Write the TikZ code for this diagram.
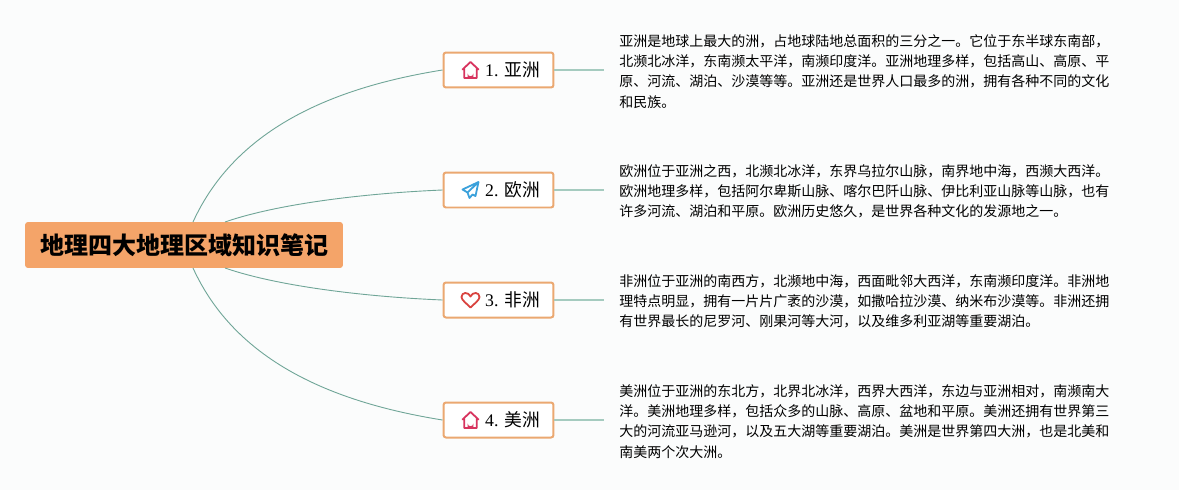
\documentclass[tikz,border=0pt]{standalone}
\usepackage{fontspec}
\usepackage{xcolor}
\setmainfont{Liberation Serif}
\newfontfamily\cjkfont{Noto Sans CJK SC}

\definecolor{pagebg}{HTML}{FBFCFC}
\definecolor{rootfill}{HTML}{F4A469}
\definecolor{boxline}{HTML}{EBA871}
\definecolor{curveline}{HTML}{6FA597}
\definecolor{stubline}{HTML}{A5CBBF}
\definecolor{housered}{HTML}{D8345F}
\definecolor{planeblue}{HTML}{3BA1DB}
\definecolor{heartred}{HTML}{D9433F}

\begin{document}
\begin{tikzpicture}[x=0.02cm,y=-0.02cm]
        % Define styles
        \tikzset{
            root/.style={rectangle, rounded corners=0.06cm, fill=rootfill, minimum width=6.36cm, minimum height=0.92cm, inner sep=0pt, font=\cjkfont\bfseries\fontsize{13.66}{16}\selectfont},
            topic/.style={rectangle, rounded corners=0.05cm, draw=boxline, line width=0.04cm, fill=white, minimum width=2.2cm, minimum height=0.7cm, inner sep=0pt, font=\fontsize{10.1}{12}\selectfont},
            desc/.style={anchor=west, align=left, inner xsep=0.3cm, inner ysep=0pt, font=\cjkfont\fontsize{7.97}{11.55}\selectfont},
            curve/.style={draw=curveline, line width=0.018cm},
            stub/.style={draw=stubline, line width=0.03cm},
            house/.pic={
                \draw[housered, line width=0.036cm, line join=round, line cap=round] (-8,-0.5) -- (0,-8) -- (8,-0.5) (-6.3,-2) -- (-6.3,8) -- (6.3,8) -- (6.3,-2);
                \fill[housered] (-2.8,8) -- (-2.8,3.5) arc[start angle=180, end angle=360, radius=2.8, y radius=-2.8] -- (2.8,8) -- cycle;
            },
            plane/.pic={
                \draw[planeblue, line width=0.036cm, line join=round] (8,-8) -- (-8,-0.5) -- (-3,2.5) -- (-1,8) -- (2,4.5) -- (5,6) -- cycle (8,-8) -- (-3,2.5);
            },
            heart/.pic={
                \draw[heartred, line width=0.036cm, line join=round] (0,7.5) .. controls (-4,3.5) and (-9,0) .. (-9,-3) .. controls (-9,-8) and (-2,-8.5) .. (0,-3.5) .. controls (2,-8.5) and (9,-8) .. (9,-3) .. controls (9,0) and (4,3.5) .. (0,7.5) -- cycle;
            }
        }

        % Page
        \fill[pagebg] (0,0) rectangle (1179,490);
        \useasboundingbox (0,0) rectangle (1179,490);

        % Nodes
        \node[root] (root_node) at (184,245) {地理四大地理区域知识笔记};
        \node[topic] (topic_node_1) at (498.5,70) {\hspace*{0.56cm}1. {\cjkfont 亚洲}};
        \node[topic] (topic_node_2) at (498.5,190) {\hspace*{0.56cm}2. {\cjkfont 欧洲}};
        \node[topic] (topic_node_3) at (498.5,300) {\hspace*{0.56cm}3. {\cjkfont 非洲}};
        \node[topic] (topic_node_4) at (498.5,420) {\hspace*{0.56cm}4. {\cjkfont 美洲}};

        \node[desc] (desc_node_1) at (604,71.5) {亚洲是地球上最大的洲，占地球陆地总面积的三分之一。它位于东半球东南部，\\北濒北冰洋，东南濒太平洋，南濒印度洋。亚洲地理多样，包括高山、高原、平\\原、河流、湖泊、沙漠等等。亚洲还是世界人口最多的洲，拥有各种不同的文化\\和民族。};
        \node[desc] (desc_node_2) at (604,191.5) {欧洲位于亚洲之西，北濒北冰洋，东界乌拉尔山脉，南界地中海，西濒大西洋。\\欧洲地理多样，包括阿尔卑斯山脉、喀尔巴阡山脉、伊比利亚山脉等山脉，也有\\许多河流、湖泊和平原。欧洲历史悠久，是世界各种文化的发源地之一。};
        \node[desc] (desc_node_3) at (604,301.5) {非洲位于亚洲的南西方，北濒地中海，西面毗邻大西洋，东南濒印度洋。非洲地\\理特点明显，拥有一片片广袤的沙漠，如撒哈拉沙漠、纳米布沙漠等。非洲还拥\\有世界最长的尼罗河、刚果河等大河，以及维多利亚湖等重要湖泊。};
        \node[desc] (desc_node_4) at (604,421.5) {美洲位于亚洲的东北方，北界北冰洋，西界大西洋，东边与亚洲相对，南濒南大\\洋。美洲地理多样，包括众多的山脉、高原、盆地和平原。美洲还拥有世界第三\\大的河流亚马逊河，以及五大湖等重要湖泊。美洲是世界第四大洲，也是北美和\\南美两个次大洲。};

        % Icons
        \pic at (470.5,70) {house};
        \pic at (470.5,190) {plane};
        \pic at (470.5,300) {heart};
        \pic at (470.5,420) {house};

        % Arrows
        \coordinate (root_top_1) at (193,222);
        \coordinate (root_top_2) at (225,222);
        \coordinate (root_bottom_1) at (225,268);
        \coordinate (root_bottom_2) at (193,268);
        \draw[curve] (root_top_1) .. controls (235,130) and (330,88) .. (topic_node_1.west);
        \draw[curve] (root_top_2) .. controls (280,203) and (370,193) .. (topic_node_2.west);
        \draw[curve] (root_bottom_1) .. controls (280,287) and (370,297) .. (topic_node_3.west);
        \draw[curve] (root_bottom_2) .. controls (235,360) and (330,402) .. (topic_node_4.west);
        \draw[stub] (topic_node_1.east) -- (topic_node_1.east -| desc_node_1.west);
        \draw[stub] (topic_node_2.east) -- (topic_node_2.east -| desc_node_2.west);
        \draw[stub] (topic_node_3.east) -- (topic_node_3.east -| desc_node_3.west);
        \draw[stub] (topic_node_4.east) -- (topic_node_4.east -| desc_node_4.west);
\end{tikzpicture}
\end{document}
